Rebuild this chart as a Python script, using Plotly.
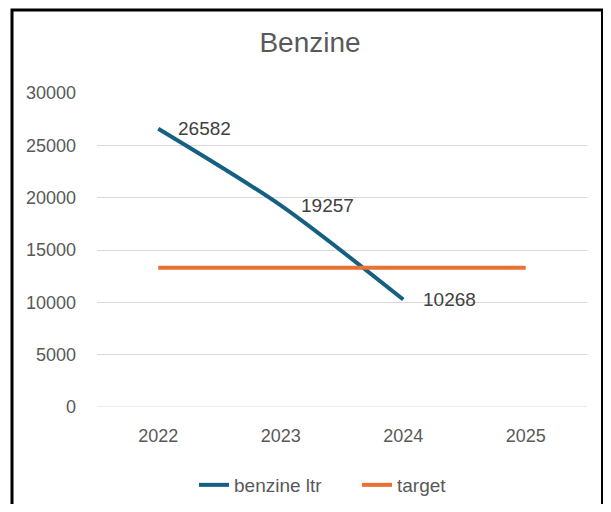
import plotly.graph_objects as go

years = ["2022", "2023", "2024", "2025"]
benzine = [26582, 19257, 10268, None]
target = [13300, 13300, 13300, 13300]
y_ticks = [0, 5000, 10000, 15000, 20000, 25000, 30000]

BLUE = "#156082"
ORANGE = "#E97132"
FONT = "Liberation Sans"

# page body has an 8px margin; figure is sized to fit inside it
W, H = 596, 496
L, T = 89, 84.5
PW, PH = 490, 315
R = W - L - PW
B = H - T - PH
plot_bottom = T + PH

def px(x):
    return (x - L) / PW

def py(y):
    return (plot_bottom - y) / PH

fig = go.Figure()
fig.add_trace(go.Scatter(x=years, y=benzine, name="benzine ltr", mode="lines",
                         line=dict(color=BLUE, width=4, shape="spline", smoothing=0.8),
                         connectgaps=False))
fig.add_trace(go.Scatter(x=years, y=target, name="target", mode="lines",
                         line=dict(color=ORANGE, width=4)))

for i, v in enumerate(benzine):
    if v is None:
        continue
    fig.add_annotation(x=i, y=v, text=str(v), showarrow=False, xanchor="left",
                       yanchor="middle", xshift=18, yshift=0,
                       font=dict(family=FONT, size=19, color="#404040"))

fig.update_layout(
    width=W, height=H,
    margin=dict(l=L, r=R, t=T, b=B, pad=0, autoexpand=False),
    paper_bgcolor="white", plot_bgcolor="white",
    title=dict(text="Benzine", x=302/W, xanchor="center", y=1-34/H, yanchor="middle",
               font=dict(family=FONT, size=28, color="#595959")),
    font=dict(family=FONT, size=18, color="#595959"),
    showlegend=True,
    legend=dict(orientation="h", xref="container", yref="container",
                x=349/W, xanchor="center", y=1-477/H, yanchor="middle",
                font=dict(family=FONT, size=19, color="#595959"), entrywidth=118,
                bgcolor="rgba(0,0,0,0)"),
    xaxis=dict(type="category", range=[-0.5, 3.5], showgrid=False, showline=False,
               zeroline=False, ticks="", ticklabelstandoff=16, automargin=False,
               tickfont=dict(family=FONT, size=18, color="#595959")),
    yaxis=dict(range=[0, 30000], tickvals=y_ticks, tickformat="d", showgrid=True,
               gridcolor="#d9d9d9", gridwidth=1, zeroline=False, showline=False, ticks="",
               ticklabelstandoff=20, automargin=False,
               tickfont=dict(family=FONT, size=18, color="#595959")),
    shapes=[dict(type="rect", xref="paper", yref="paper",
                 x0=px(4), x1=px(594.5), y0=py(530), y1=py(1.2),
                 line=dict(color="black", width=3), fillcolor="rgba(0,0,0,0)")],
)
fig.add_shape(type="line", xref="paper", yref="y", x0=0, x1=1, y0=0, y1=0,
              line=dict(color="#d9d9d9", width=1), layer="below")

fig.write_html("out.html")
